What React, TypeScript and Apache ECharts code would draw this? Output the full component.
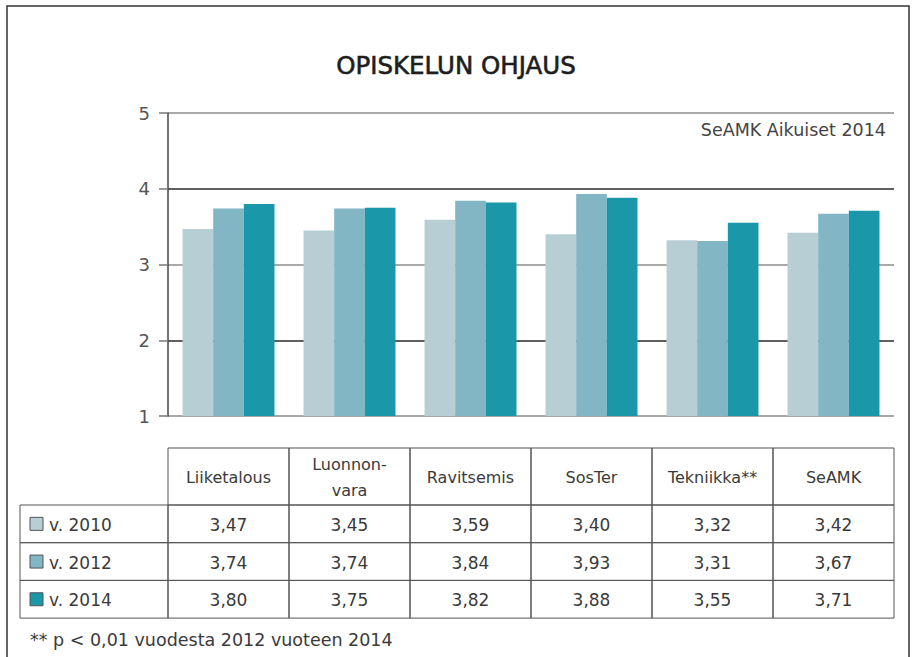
import React, { useEffect, useRef } from "react";
import * as echarts from "echarts";

const categories = ["Liiketalous", "Luonnon-\nvara", "Ravitsemis", "SosTer", "Tekniikka**", "SeAMK"];
const seriesNames = ["v. 2010", "v. 2012", "v. 2014"];
const v2010 = [3.47, 3.45, 3.59, 3.4, 3.32, 3.42];
const v2012 = [3.74, 3.74, 3.84, 3.93, 3.31, 3.67];
const v2014 = [3.8, 3.75, 3.82, 3.88, 3.55, 3.71];
const seriesColors = ["#b7cfd4", "#82b6c4", "#1a97a8"];
const yTicks = [1, 2, 3, 4, 5];

const W = 912;
const H = 657;
const FONT = "'DejaVu Sans', 'Open Sans', sans-serif";

export default function App() {
  const ref = useRef<HTMLDivElement>(null);
  useEffect(() => {
    if (!ref.current) return;
    const chart = echarts.init(ref.current, undefined, { renderer: "svg" });

    const gridLeft = 168;
    const gridRight = 894;
    const gridTop = 113;
    const gridBottom = 416;
    const colW = (gridRight - gridLeft) / categories.length;

    const tableTop = 448;
    const headerH = 57;
    const rowH = 37.7;
    const firstColLeft = 20;
    const textColor = "#3a3a3a";

    const values = [v2010, v2012, v2014];
    const fmt = (v: number) => v.toFixed(2).replace(".", ",");

    const graphics: any[] = [];
    graphics.push({
      type: "polyline",
      shape: { points: [[7, H], [7, 6], [909, 6], [909, H]] },
      style: { stroke: "#333", lineWidth: 1.5, fill: "none" },
      silent: true,
    });
    graphics.push({
      type: "text",
      style: {
        text: "SeAMK Aikuiset 2014",
        x: 886,
        y: 130,
        align: "right",
        verticalAlign: "middle",
        fontSize: 17.5,
        fontFamily: FONT,
        fill: "#444",
      },
    });
    categories.forEach((c, i) => {
      const x = gridLeft + i * colW;
      graphics.push({
        type: "rect",
        shape: { x, y: tableTop, width: colW, height: headerH },
        style: { fill: "none", stroke: "#555", lineWidth: 1 },
      });
      graphics.push({
        type: "text",
        style: {
          text: c,
          x: x + colW / 2,
          y: tableTop + headerH / 2 + 1,
          align: "center",
          verticalAlign: "middle",
          fontSize: 16,
          lineHeight: 26,
          fontFamily: FONT,
          fill: textColor,
        },
      });
    });
    seriesNames.forEach((name, r) => {
      const y = tableTop + headerH + r * rowH;
      graphics.push({
        type: "rect",
        shape: { x: firstColLeft, y, width: gridLeft - firstColLeft, height: rowH },
        style: { fill: "none", stroke: "#555", lineWidth: 1 },
      });
      graphics.push({
        type: "rect",
        shape: { x: 30, y: y + rowH / 2 - 6.5, width: 13, height: 13 },
        style: { fill: seriesColors[r], stroke: "#555", lineWidth: 1 },
      });
      graphics.push({
        type: "text",
        style: {
          text: name,
          x: 49,
          y: y + rowH / 2 + 1,
          align: "left",
          verticalAlign: "middle",
          fontSize: 17,
          fontFamily: FONT,
          fill: textColor,
        },
      });
      values[r].forEach((v, i) => {
        const x = gridLeft + i * colW;
        graphics.push({
          type: "rect",
          shape: { x, y, width: colW, height: rowH },
          style: { fill: "none", stroke: "#555", lineWidth: 1 },
        });
        graphics.push({
          type: "text",
          style: {
            text: fmt(v),
            x: x + colW / 2,
            y: y + rowH / 2 + 1,
            align: "center",
            verticalAlign: "middle",
            fontSize: 17,
            fontFamily: FONT,
            fill: textColor,
          },
        });
      });
    });
    graphics.push({
      type: "text",
      style: {
        text: "** p < 0,01 vuodesta 2012 vuoteen 2014",
        x: 30,
        y: 640,
        align: "left",
        verticalAlign: "middle",
        fontSize: 17.5,
        fontFamily: FONT,
        fill: textColor,
      },
    });

    chart.setOption({
      animation: false,
      backgroundColor: "#fff",
      title: {
        text: "OPISKELUN OHJAUS",
        left: "center",
        top: 48,
        textStyle: {
          fontSize: 24.5,
          fontWeight: "normal",
          color: "#1e1e1e",
          fontFamily: FONT,
          textBorderColor: "#1e1e1e",
          textBorderWidth: 0.6,
        },
      },
      grid: {
        left: gridLeft,
        right: W - gridRight,
        top: gridTop,
        bottom: H - gridBottom,
        containLabel: false,
      },
      xAxis: {
        type: "category",
        data: categories,
        axisLine: { show: false },
        axisTick: { show: false },
        axisLabel: { show: false },
        splitLine: { show: false },
      },
      yAxis: {
        type: "value",
        min: yTicks[0],
        max: yTicks[yTicks.length - 1],
        interval: 1,
        axisLine: { show: true, lineStyle: { color: "#444", width: 1.5 } },
        axisTick: { show: true, length: 9, lineStyle: { color: "#777", width: 1.5 } },
        axisLabel: { margin: 18, fontSize: 18, color: "#555", fontFamily: FONT },
        splitLine: { show: true, lineStyle: { color: ["#8c8c8c", "#2a2a2a"], width: 1.5 } },
      },
      series: seriesNames.map((n, i) => ({
        name: n,
        type: "bar",
        data: values[i],
        barGap: "0%",
        barCategoryGap: "24%",
        itemStyle: { color: seriesColors[i] },
        z: 1,
      })),
      graphic: graphics,
    });
    return () => chart.dispose();
  }, []);
  return (
    <div
      ref={ref}
      style={{ position: "fixed", left: 0, top: 0, width: W, height: H, background: "#fff" }}
    />
  );
}
